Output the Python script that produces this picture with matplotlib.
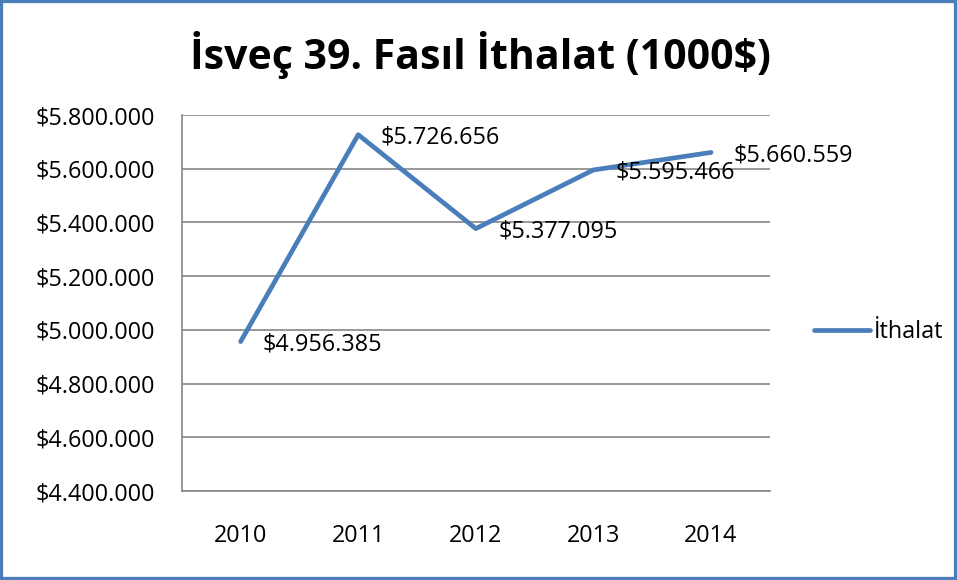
import matplotlib
matplotlib.use("Agg")
import matplotlib.pyplot as plt
from matplotlib.patches import Rectangle
from matplotlib.ticker import FuncFormatter

years = ["2010", "2011", "2012", "2013", "2014"]
values = [4956385, 5726656, 5377095, 5595466, 5660559]
series_name = "İthalat"
title = "İsveç 39. Fasıl İthalat (1000$)"

def fmt(v):
    return "$" + f"{int(round(v)):,}".replace(",", ".")

plt.rcParams['font.family'] = ['Open Sans', 'DejaVu Sans']
blue = "#4A7EBB"
grid = "#868686"
fs = 16.8

fig = plt.figure(figsize=(9.57, 5.80), dpi=100)
ax = fig.add_axes([0.190, 0.1534, 0.6144, 0.6483])
x = list(range(len(years)))
line, = ax.plot(x, values, color=blue, lw=3.4, solid_capstyle='round', label=series_name)
for xi, v in zip(x, values):
    ax.annotate(fmt(v), (xi, v), xytext=(16, -2), textcoords='offset points',
                ha='left', va='center', fontsize=fs, color='black')

ax.set_xlim(-0.5, 4.5)
ax.set_ylim(4400000, 5800000)
ax.set_yticks(range(4400000, 5800001, 200000))
ax.yaxis.set_major_formatter(FuncFormatter(lambda v, p: fmt(v)))
ax.set_xticks(x)
ax.set_xticklabels(years)
ax.tick_params(axis='both', length=0, labelsize=fs, colors='black')
ax.tick_params(axis='y', pad=19.5)
ax.tick_params(axis='x', pad=24)
ax.grid(axis='y', color=grid, lw=1.2)
ax.set_axisbelow(True)
for s in ['top', 'right']:
    ax.spines[s].set_visible(False)
for s in ['left', 'bottom']:
    ax.spines[s].set_color(grid)
    ax.spines[s].set_linewidth(1.2)

fig.text(0.502, 0.906, title, ha='center', va='center', fontsize=29.5, fontweight='bold')

fig.legend(handles=[line], loc='center left', bbox_to_anchor=(0.829, 0.428),
           frameon=False, fontsize=fs, handlelength=2.4, handletextpad=0.15)

fig.add_artist(Rectangle((0, 0), 1, 1, transform=fig.transFigure, fill=False,
                         edgecolor=blue, lw=4.5, clip_on=False))
fig.savefig("out.png", dpi=100)
